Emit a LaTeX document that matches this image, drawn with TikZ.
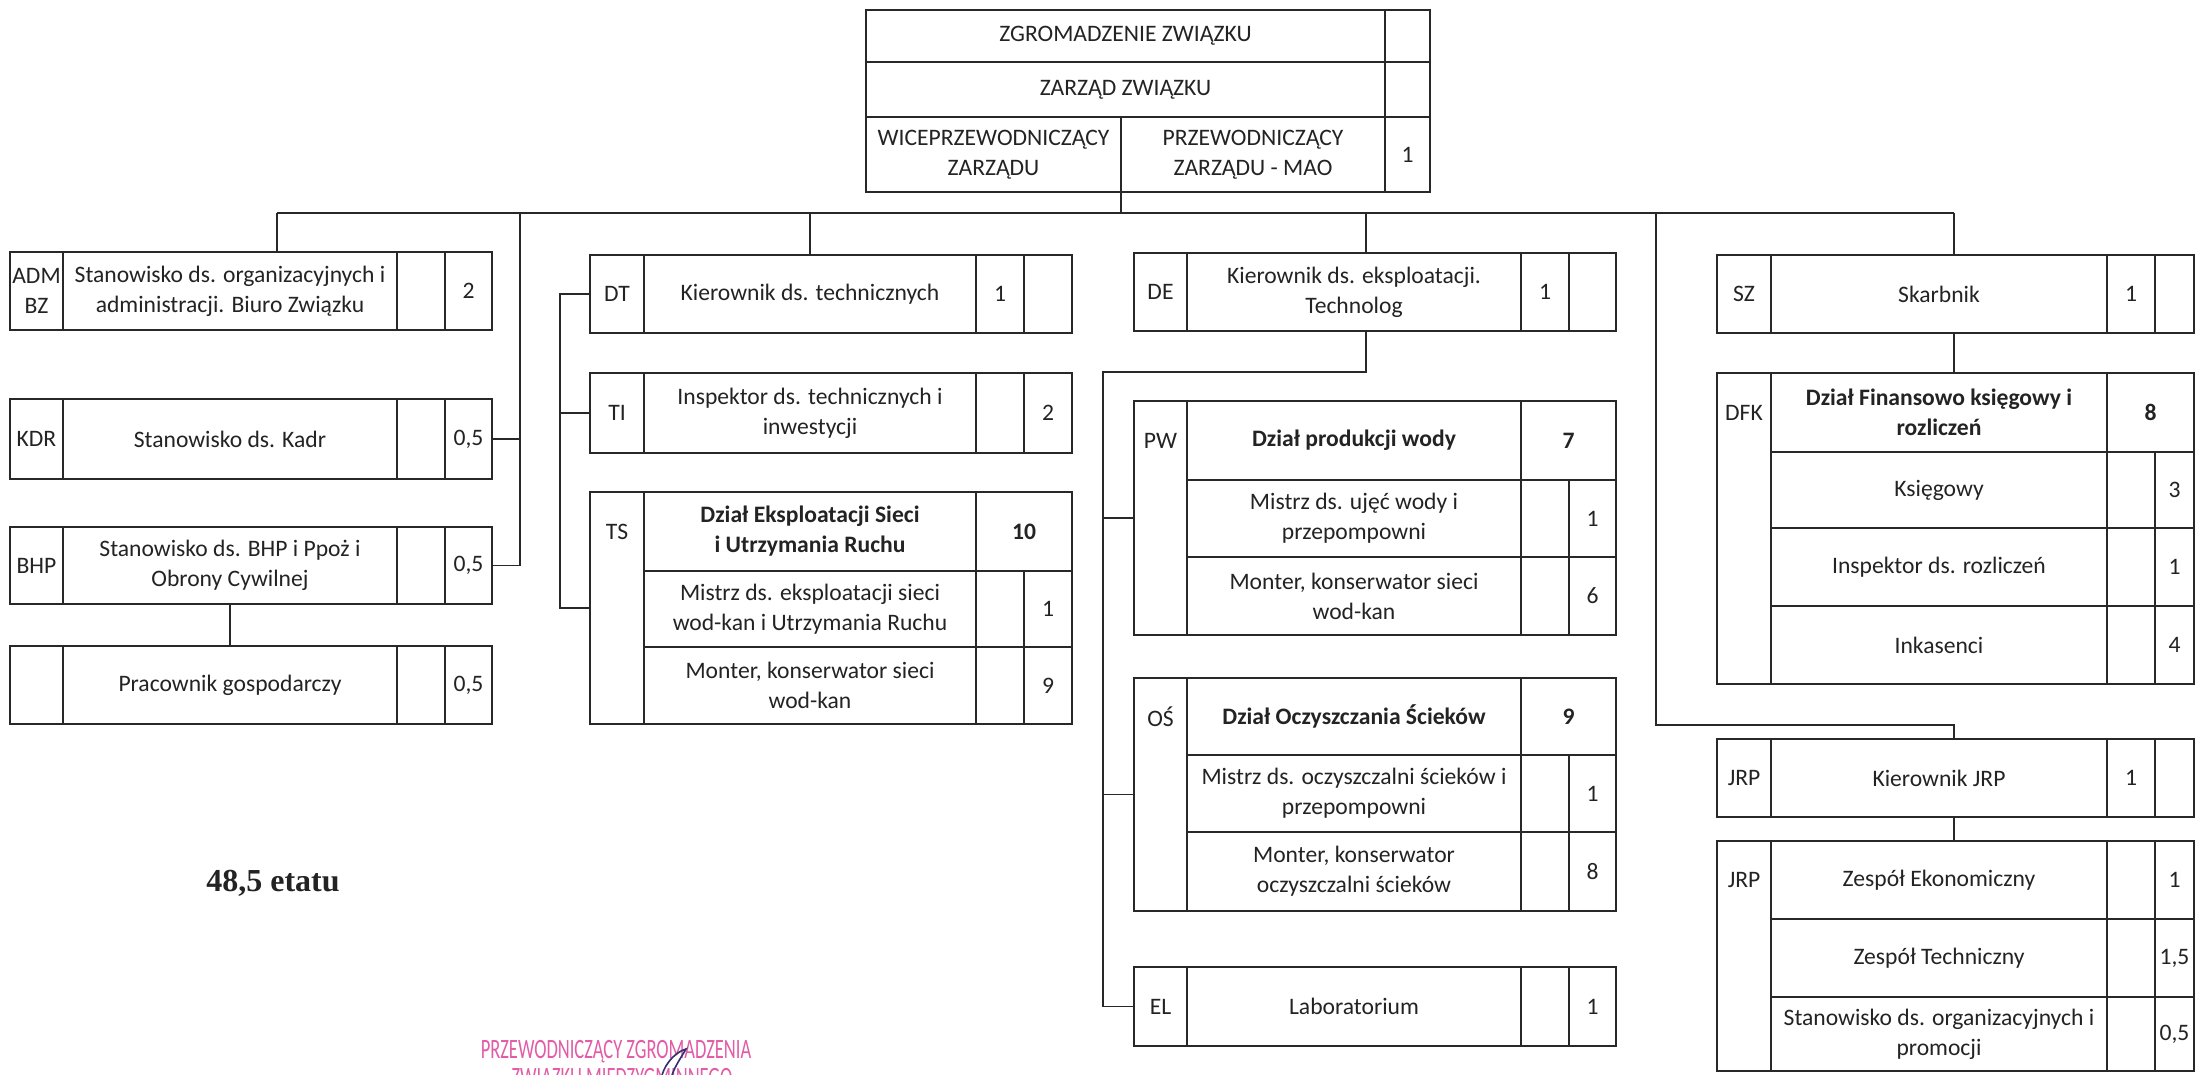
\documentclass[tikz,border=0pt]{standalone}
\usepackage{fontspec}
\usepackage{graphicx}
\setmainfont{Carlito}
\newfontfamily\serifbold{Liberation Serif}
\usetikzlibrary{calc}
\definecolor{lncol}{RGB}{40,40,40}
\definecolor{txcol}{RGB}{35,35,35}
\definecolor{stamppink}{RGB}{226,92,166}
\definecolor{signavy}{RGB}{50,50,110}
\tikzset{
  cellbox/.style={draw=lncol, line width=0.9pt, rectangle, inner sep=0pt, outer sep=0pt, align=center, text=txcol, font=\fontsize{11.8}{15}\selectfont},
  hdr/.style={font=\fontsize{11.8}{15}\selectfont\bfseries},
  conn/.style={draw=lncol, line width=0.9pt},
  codelab/.style={inner sep=0pt, text=txcol, font=\fontsize{11.8}{15}\selectfont},
  stamptext/.style={text=stamppink, font=\fontsize{14}{16}\selectfont, inner sep=0pt}
}
\newcommand{\cellat}[7][]{\node[cellbox,#1,minimum width={(#5-#3)*0.5pt},minimum height={(#6-#4)*0.5pt}] (#2) at ({(#3+#5)/2},{(#4+#6)/2}) {#7};}
\newcommand{\setcols}[5]{\def\colA{#1}\def\colB{#2}\def\colC{#3}\def\colD{#4}\def\colE{#5}}
\newcommand{\fourbox}[7]{%
 \cellat{#1c}{\colA}{#2}{\colB}{#3}{#4}%
 \cellat{#1t}{\colB}{#2}{\colC}{#3}{#5}%
 \cellat{#1n}{\colC}{#2}{\colD}{#3}{#6}%
 \cellat{#1m}{\colD}{#2}{\colE}{#3}{#7}}
\newcommand{\subrow}[5]{%
 \cellat{#1t}{\colB}{#2}{\colC}{#3}{#4}%
 \cellat{#1n}{\colC}{#2}{\colD}{#3}{}%
 \cellat{#1m}{\colD}{#2}{\colE}{#3}{#5}}
\newcommand{\dephead}[7]{%
 \cellat{#1c}{\colA}{#2}{\colB}{#4}{}%
 \node[codelab] (#1l) at ({(\colA+\colB)/2},{(#2+#3)/2}) {#5};%
 \cellat[hdr]{#1t}{\colB}{#2}{\colC}{#3}{#6}%
 \cellat[hdr]{#1n}{\colC}{#2}{\colE}{#3}{#7}}
\begin{document}
\begin{tikzpicture}[x=0.5pt,y=-0.5pt]
\fill[white] (0,0) rectangle (2196,1075);
\useasboundingbox (0,0) rectangle (2196,1075);
\clip (0,0) rectangle (2196,1075);

% top block
\cellat{zg}{866}{10}{1385}{62}{ZGROMADZENIE ZWIĄZKU}
\cellat{zgn}{1385}{10}{1430}{62}{}
\cellat{zz}{866}{62}{1385}{117}{ZARZĄD ZWIĄZKU}
\cellat{zzn}{1385}{62}{1430}{117}{}
\cellat{wice}{866}{117}{1121}{192}{WICEPRZEWODNICZĄCY\\ZARZĄDU}
\cellat{przew}{1121}{117}{1385}{192}{PRZEWODNICZĄCY\\ZARZĄDU - MAO}
\cellat{przn}{1385}{117}{1430}{192}{1}

% left column
\setcols{10}{63}{397}{445}{492}
\fourbox{adm}{252}{330}{ADM\\BZ}{Stanowisko ds. organizacyjnych i\\administracji. Biuro Związku}{}{2}
\fourbox{kdr}{399}{479}{KDR}{Stanowisko ds. Kadr}{}{0,5}
\fourbox{bhp}{527}{604}{BHP}{Stanowisko ds. BHP i Ppoż i\\Obrony Cywilnej}{}{0,5}
\fourbox{prac}{646}{724}{}{Pracownik gospodarczy}{}{0,5}

% technical column
\setcols{590}{644}{976}{1024}{1072}
\fourbox{dt}{255}{333}{DT}{Kierownik ds. technicznych}{1}{}
\fourbox{ti}{373}{453}{TI}{Inspektor ds. technicznych i\\inwestycji}{}{2}
\dephead{ts}{492}{571}{724}{TS}{Dział Eksploatacji Sieci\\i Utrzymania Ruchu}{10}
\subrow{tsa}{571}{647}{Mistrz ds. eksploatacji sieci\\wod-kan i Utrzymania Ruchu}{1}
\subrow{tsb}{647}{724}{Monter, konserwator sieci\\wod-kan}{9}

% exploitation column
\setcols{1134}{1187}{1521}{1569}{1616}
\fourbox{de}{253}{331}{DE}{Kierownik ds. eksploatacji.\\Technolog}{1}{}
\dephead{pw}{401}{480}{635}{PW}{Dział produkcji wody}{7}
\subrow{pwa}{480}{557}{Mistrz ds. ujęć wody i\\przepompowni}{1}
\subrow{pwb}{557}{635}{Monter, konserwator sieci\\wod-kan}{6}
\dephead{os}{678}{755}{911}{OŚ}{Dział Oczyszczania Ścieków}{9}
\subrow{osa}{755}{832}{Mistrz ds. oczyszczalni ścieków i\\przepompowni}{1}
\subrow{osb}{832}{911}{Monter, konserwator\\oczyszczalni ścieków}{8}
\fourbox{el}{967}{1046}{EL}{Laboratorium}{}{1}

% finance column
\setcols{1717}{1771}{2107}{2155}{2194}
\fourbox{sz}{255}{333}{SZ}{Skarbnik}{1}{}
\dephead{dfk}{373}{452}{684}{DFK}{Dział Finansowo księgowy i\\rozliczeń}{8}
\subrow{dfa}{452}{528}{Księgowy}{3}
\subrow{dfb}{528}{606}{Inspektor ds. rozliczeń}{1}
\subrow{dfc}{606}{684}{Inkasenci}{4}
\fourbox{jrp}{739}{817}{JRP}{Kierownik JRP}{1}{}
\cellat{jtc}{\colA}{841}{\colB}{1071}{}
\node[codelab] (jtl) at ({(\colA+\colB)/2},{(841+919)/2}) {JRP};
\subrow{jta}{841}{919}{Zespół Ekonomiczny}{1}
\subrow{jtb}{919}{997}{Zespół Techniczny}{1,5}
\subrow{jtd}{997}{1071}{Stanowisko ds. organizacyjnych i\\promocji}{0,5}

% connectors
\coordinate (busL) at (277,213);
\coordinate (busR) at (1954,213);
\draw[conn] (busL) -- (busR);
\draw[conn] (wice.south east) -- (wice.south east |- busL);
\draw[conn] (busL) -- (busL |- admt.north);
\coordinate (kb) at (520,213);
\draw[conn] (kb) |- (bhpm.east);
\draw[conn] (kdrm.east) -- (kdrm.east -| kb);
\draw[conn] (bhpt.south) -- (pract.north);
\draw[conn] (dtt.north |- busL) -- (dtt.north);
\coordinate (tb) at (560,290);
\draw[conn] (dtc.west) -- (dtc.west -| tb) |- (tsc.west);
\draw[conn] (tic.west) -- (tic.west -| tb);
\coordinate (dex) at (1366,213);
\draw[conn] (dex) -- (dex |- det.north);
\coordinate (dej) at (1103,372);
\draw[conn] (dex |- det.south) |- (dej) |- (elc.west);
\draw[conn] (pwc.west) -- (pwc.west -| dej);
\draw[conn] (osc.west) -- (osc.west -| dej);
\draw[conn] (busR) -- (busR |- szt.north);
\draw[conn] (busR |- szt.south) -- (busR |- dfkt.north);
\coordinate (jv) at (1656,213);
\coordinate (jh) at (1656,725);
\draw[conn] (jv) -- (jh) -- (jh -| busR) -- (busR |- jrpt.north);
\draw[conn] (busR |- jrpt.south) -- (busR |- jtat.north);

% texts
\node[font=\serifbold\bfseries\fontsize{16}{18}\selectfont, text=txcol] (total) at (273,883) {48,5 etatu};
\node[stamptext] (st1) at (616,1052) {\scalebox{0.66}[1]{PRZEWODNICZĄCY ZGROMADZENIA}};
\node[stamptext] (st2) at (622,1080) {\scalebox{0.66}[1]{ZWIĄZKU MIĘDZYGMINNEGO}};
\draw[signavy, line width=0.8pt] (662,1075) .. controls (666,1062) and (676,1052) .. (686,1049) .. controls (682,1056) and (675,1066) .. (672,1075);
\end{tikzpicture}
\end{document}
